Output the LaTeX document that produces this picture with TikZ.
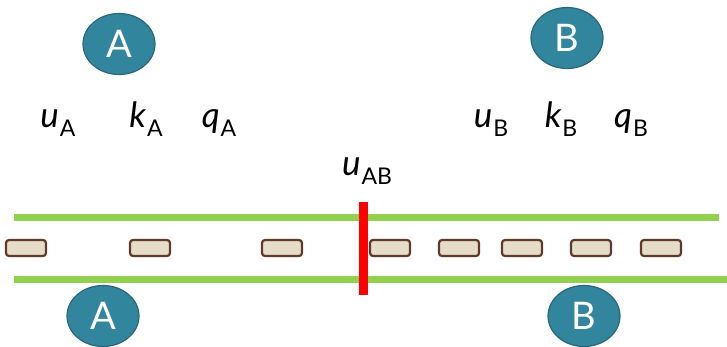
\documentclass[tikz,border=0pt]{standalone}
\usepackage{fontspec}
\setmainfont{Lato}
\usetikzlibrary{shapes.geometric}
\definecolor{teal1}{HTML}{31859C}
\definecolor{teal2}{HTML}{2A6878}
\definecolor{road}{HTML}{92D050}
\definecolor{carfill}{HTML}{E6DDC8}
\definecolor{carline}{HTML}{5E3A2E}
\tikzset{
  zone/.style={ellipse, fill=teal1, draw=teal2, line width=1.2pt, minimum width=72pt, minimum height=61pt, inner sep=0pt, text=white, font=\fontsize{38}{38}\selectfont},
  car/.style={rectangle, rounded corners=3pt, fill=carfill, draw=carline, line width=2.2pt, minimum width=40pt, minimum height=16pt, inner sep=0pt},
  roadline/.style={draw=road, line width=7pt},
  var/.style={inner sep=0pt, anchor=base, font=\fontsize{35}{35}\selectfont},
}
\newcommand{\vsub}[2]{{\itshape #1}\kern1pt\raisebox{-9pt}{\fontsize{23}{23}\selectfont #2}}
\begin{document}
\begin{tikzpicture}[x=1pt,y=-1pt]
\useasboundingbox (0,0) rectangle (727,346);
\node[zone] (zA) at (119,44) {A};
\node[zone] (zB) at (567,38) {B};
\node[zone] (zA2) at (103,316) {A};
\node[zone] (zB2) at (584,316) {B};
\node[var] (uA) at (58,127) {\vsub{u}{A}};
\node[var] (kA) at (146,127) {\vsub{k}{A}};
\node[var] (qA) at (219,127) {\vsub{q}{A}};
\node[var] (uB) at (491,127) {\vsub{u}{B}};
\node[var] (kB) at (561,127) {\vsub{k}{B}};
\node[var] (qB) at (631,127) {\vsub{q}{B}};
\node[var] (uAB) at (367,175) {\vsub{u}{AB}};
\coordinate (t1) at (14,217); \coordinate (t2) at (719,217);
\coordinate (b1) at (14,279); \coordinate (b2) at (727,279);
\draw[roadline] (t1) -- (t2);
\draw[roadline] (b1) -- (b2);
\foreach \x [count=\i] in {26,150,282,390,459,522,591,661}
  \node[car] (c\i) at (\x,248) {};
\coordinate (r1) at (363,202); \coordinate (r2) at (363,295);
\draw[red, line width=9pt] (r1) -- (r2);
\end{tikzpicture}
\end{document}
